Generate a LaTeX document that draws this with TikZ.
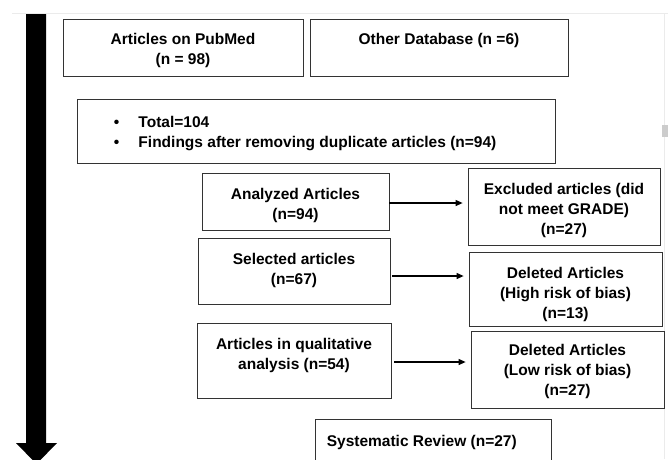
\documentclass[tikz,border=0pt]{standalone}
\usepackage{fontspec}
\setmainfont{Liberation Sans}
\usetikzlibrary{positioning,arrows.meta}

\begin{document}
\begin{tikzpicture}[x=1pt,y=-1pt,
    box/.style={draw=black!80,line width=0.8pt,inner sep=0pt},
    txt/.style={font=\bfseries\fontsize{15.5}{20}\selectfont,align=center,inner sep=0pt,anchor=north},
    flow/.style={line width=1.1pt,-{Triangle[length=7pt,width=6pt]},shorten >=5pt}]
\useasboundingbox (0,0) rectangle (668,459);
\clip (0,0) rectangle (668,459);
% page edge and scroll bar
\draw[black!8,line width=1pt] (12,13) -- (668,13);
\draw[black!8,line width=0.8pt] (664,14) -- (664,459);
\fill[black!20] (662,125) rectangle (668,137);
% long arrow on the left
\fill (26,14) -- (46,14) -- (46,443) -- (57,443) -- (36.5,464) -- (16,443) -- (26,443) -- cycle;
% boxes
\node[box,minimum width=240pt,minimum height=57pt] (pub) at (183,47.5) {};
\node[box,minimum width=258pt,minimum height=57pt] (other) at (439,47.5) {};
\node[box,minimum width=478pt,minimum height=64pt] (total) at (316,131) {};
\node[box,minimum width=187pt,minimum height=57pt] (anal) at (295.5,201.5) {};
\node[box,minimum width=192pt,minimum height=77pt] (excl) at (564,206.5) {};
\node[box,minimum width=192pt,minimum height=66pt] (sel) at (294,271) {};
\node[box,minimum width=193pt,minimum height=74pt] (high) at (565.5,289) {};
\node[box,minimum width=194pt,minimum height=75pt] (qual) at (294,360.5) {};
\node[box,minimum width=193pt,minimum height=77pt] (low) at (567.5,369.5) {};
\node[box,minimum width=236pt,minimum height=56pt] (sys) at (433,447) {};
% texts
\node[txt,below=14pt of pub.north] (pubtxt) {Articles on PubMed\\(n = 98)};
\node[txt,below=14pt of other.north] (othertxt) {Other Database (n =6)};
\node[txt,align=left,anchor=north west,below right=17pt and 37pt of total.north west] (totaltxt)
  {\makebox[24.7pt][l]{\textbullet}Total=104\\\makebox[24.7pt][l]{\textbullet}Findings after removing duplicate articles (n=94)};
\node[txt,below=15pt of anal.north] (analtxt) {Analyzed Articles\\(n=94)};
\node[txt,below=15pt of excl.north] (excltxt) {Excluded articles (did\\not meet GRADE)\\(n=27)};
\node[txt,below=15pt of sel.north] (seltxt) {Selected articles\\(n=67)};
\node[txt,below=15pt of high.north] (hightxt) {Deleted Articles\\(High risk of bias)\\(n=13)};
\node[txt,below=15pt of qual.north] (qualtxt) {Articles in qualitative\\analysis (n=54)};
\node[txt,below=13pt of low.north] (lowtxt) {Deleted Articles\\(Low risk of bias)\\(n=27)};
\node[txt,anchor=north west,below right=16pt and 12pt of sys.north west] (systxt) {Systematic Review (n=27)};
% connectors
\coordinate (a1) at ([yshift=-1.5pt]anal.east);
\coordinate (a2) at ([yshift=-5pt,xshift=2pt]sel.east);
\coordinate (a3) at ([yshift=-1.5pt,xshift=3pt]qual.east);
\draw[flow] (a1) -- (a1 -| excl.west);
\draw[flow] (a2) -- (a2 -| high.west);
\draw[flow] (a3) -- (a3 -| low.west);
\end{tikzpicture}
\end{document}
